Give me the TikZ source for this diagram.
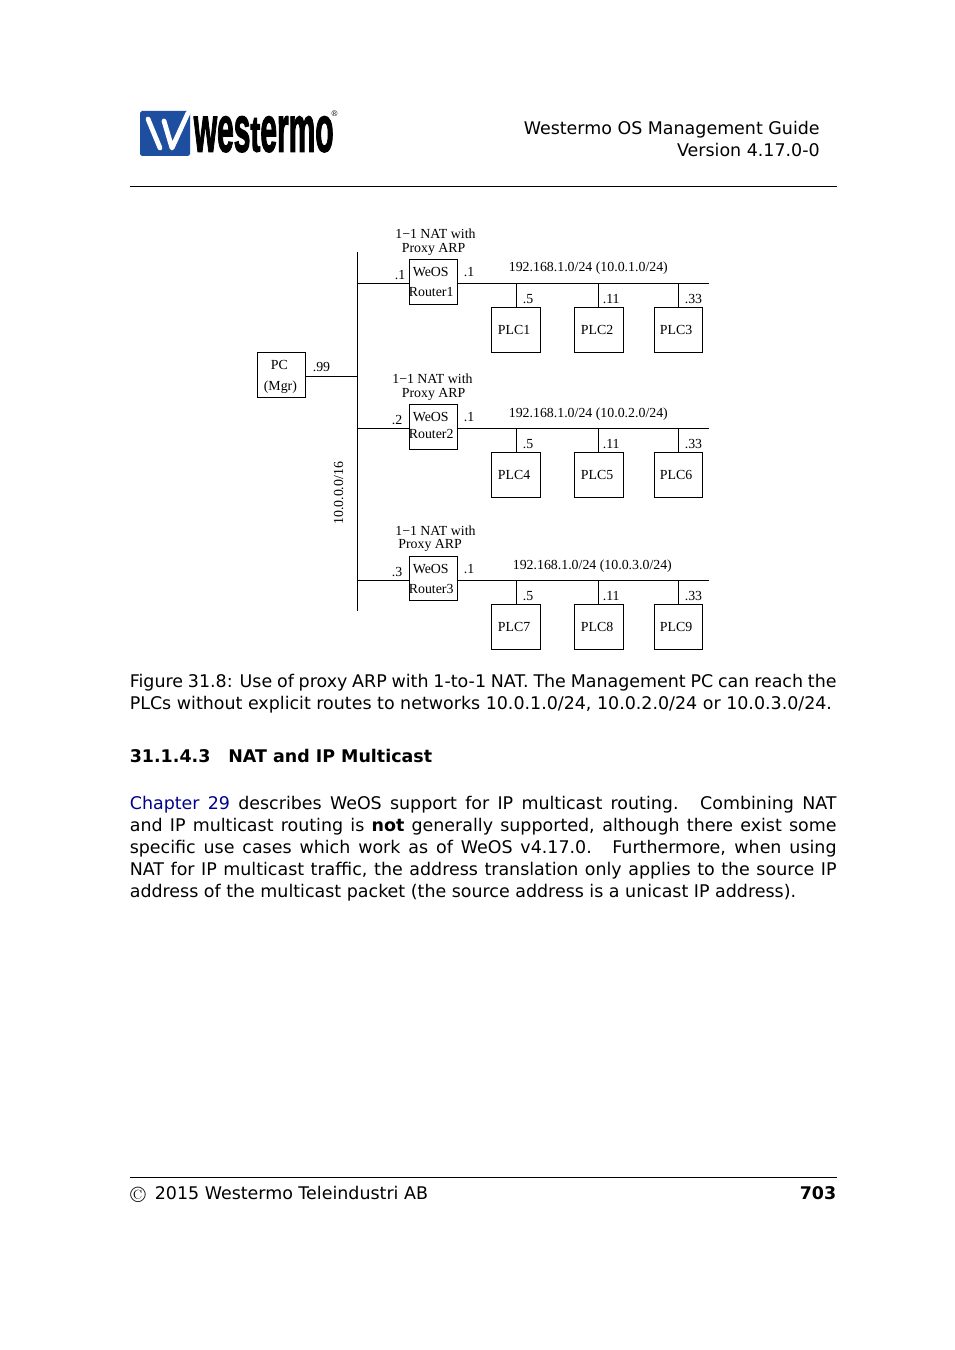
\documentclass[tikz,border=0pt]{standalone}
\usepackage{fontspec}
\setmainfont{DejaVu Sans}
\newfontfamily\timesf{Liberation Serif}
\newfontfamily\logof[FakeBold=2.5]{Liberation Sans Bold}
\newfontfamily\regf{Liberation Sans}
\usepackage{graphicx}
\definecolor{logoblue}{RGB}{30,78,160}
\definecolor{linkblue}{RGB}{0,0,140}
\tikzset{
  boxn/.style={draw=black,line width=0.65pt,inner sep=0pt,fill=white},
  routerbox/.style={boxn,minimum width=48pt*0.624,minimum height=44.5pt*0.624},
  plcbox/.style={boxn,minimum width=49pt*0.624,minimum height=45pt*0.624},
  wire/.style={line width=0.65pt,draw=black},
  lab/.style={anchor=base west,inner sep=0pt,font=\timesf\fontsize{8.65}{10}\selectfont},
  body/.style={anchor=base west,inner sep=0pt,font=\fontsize{10.89}{13.73}\selectfont},
  bodyb/.style={body,font=\bfseries\fontsize{10.89}{13.73}\selectfont},
  rule/.style={line width=0.5pt,draw=black},
}
\begin{document}
\begin{tikzpicture}[x=0.624pt,y=-0.624pt]
\useasboundingbox[fill=white] (0,0) rectangle (954,1350);
% logo
\fill[logoblue,rounded corners=1.2pt] (140,111) rectangle (190,156);
\draw[white,line width=3pt,line cap=round,line join=round] (148,119) -- (160,148);
\draw[white,line width=3pt,line cap=round,line join=round] (164,121) -- (172,148) -- (188,113);
\node[anchor=base west,inner sep=0pt] (logotext) at (193.5,151.5) {\logof\fontsize{18.5}{20}\selectfont\scalebox{1.01}[2.2]{wes}\scalebox{1.01}[1.72]{t}\scalebox{1.01}[2.2]{ermo}};
\node[anchor=center,inner sep=0pt,font=\regf\fontsize{5}{5}\selectfont] (logoreg) at (334.5,113.5) {®};
% header
\node[body,anchor=base east] (h1) at (820,135) {Westermo OS Management Guide};
\node[body,anchor=base east] (h2) at (820,157) {Version 4.17.0-0};
\coordinate (hl) at (130,186.5); \coordinate (hr) at (837,186.5);
\draw[rule] (hl) -- (hr);
% bus
\coordinate (busT) at (357.5,252);
\coordinate (busB) at (357.5,611);
\draw[wire] (busT) -- (busB);
% PC
\node[routerbox,minimum height=45pt*0.624] (pc) at (281.5,375) {};
\coordinate (jpc) at (357.5,376.5);
\draw[wire] (pc.east |- jpc) -- (jpc);
% branches
\foreach \i/\a/\b/\c/\yl/\yr/\yp in {1/1/2/3/283.5/282/330,2/4/5/6/428.5/427/475,3/7/8/9/580.5/578.5/627}{
  \coordinate (j\i) at (357.5,\yl);
  \coordinate (e\i) at (709,\yl);
  \node[routerbox] (r\i) at (433.5,\yr) {};
  \draw[wire] (j\i) -- (r\i.west |- j\i);
  \draw[wire] (r\i.east |- j\i) -- (e\i);
  \node[plcbox] (p\a) at (516,\yp) {};
  \node[plcbox] (p\b) at (599,\yp) {};
  \node[plcbox,minimum width=48pt*0.624] (p\c) at (678.5,\yp) {};
  \coordinate (sa\i) at (516.5,\yl);
  \coordinate (sb\i) at (598.5,\yl);
  \draw[wire] (sa\i) -- (sa\i |- p\a.north);
  \draw[wire] (sb\i) -- (sb\i |- p\b.north);
  \draw[wire] (p\c.north) -- (p\c.north |- j\i);
}
% PC labels
\node[lab] (tpc) at (270.5,369) {PC};
\node[lab] (tmgr) at (263.5,390) {(Mgr)};
\node[lab] (t99) at (312.5,371) {.99};
\node[lab,rotate=90] (tnet) at (343,525) {10.0.0.0/16};
% router 1
\node[lab] (n1a) at (395,239) {1−1 NAT with};
\node[lab] (n1b) at (401.5,253) {Proxy ARP};
\node[lab] (l1) at (394.5,279) {.1};
\node[lab] (w1) at (412.5,276) {WeOS};
\node[lab] (t1) at (408.5,296.5) {Router1};
\node[lab] (o1) at (463.5,276) {.1};
\node[lab] (s1) at (508.5,272) {192.168.1.0/24 (10.0.1.0/24)};
\node[lab] (a1) at (522.5,303) {.5};
\node[lab] (b1) at (602.5,303) {.11};
\node[lab] (c1) at (684.5,303) {.33};
\node[lab] (q1) at (497.5,334) {PLC1};
\node[lab] (q2) at (580.5,334) {PLC2};
\node[lab] (q3) at (659.5,334) {PLC3};
% router 2
\node[lab] (n2a) at (392,383) {1−1 NAT with};
\node[lab] (n2b) at (401.5,397) {Proxy ARP};
\node[lab] (l2) at (391.5,424) {.2};
\node[lab] (w2) at (412.5,421) {WeOS};
\node[lab] (t2) at (408.5,438) {Router2};
\node[lab] (o2) at (463.5,421) {.1};
\node[lab] (s2) at (508.5,417) {192.168.1.0/24 (10.0.2.0/24)};
\node[lab] (a2) at (522.5,448) {.5};
\node[lab] (b2) at (602.5,448) {.11};
\node[lab] (c2) at (684.5,448) {.33};
\node[lab] (q4) at (497.5,479) {PLC4};
\node[lab] (q5) at (580.5,479) {PLC5};
\node[lab] (q6) at (659.5,479) {PLC6};
% router 3
\node[lab] (n3a) at (395,535) {1−1 NAT with};
\node[lab] (n3b) at (398,548) {Proxy ARP};
\node[lab] (l3) at (391.5,576) {.3};
\node[lab] (w3) at (412.5,573) {WeOS};
\node[lab] (t3) at (408.5,593) {Router3};
\node[lab] (o3) at (463.5,573) {.1};
\node[lab] (s3) at (512.5,569) {192.168.1.0/24 (10.0.3.0/24)};
\node[lab] (a3) at (522.5,600) {.5};
\node[lab] (b3) at (602.5,600) {.11};
\node[lab] (c3) at (684.5,600) {.33};
\node[lab] (q7) at (497.5,631) {PLC7};
\node[lab] (q8) at (580.5,631) {PLC8};
\node[lab] (q9) at (659.5,631) {PLC9};
% caption
\node[body] (cap1) at (129.5,687) {\hbox to 441pt{\spaceskip=0.318em plus 1em minus 0.2em Figure 31.8: Use of proxy ARP with 1-to-1 NAT. The Management PC can reach the}};
\node[body] (cap2) at (129.5,709) {PLCs without explicit routes to networks 10.0.1.0/24, 10.0.2.0/24 or 10.0.3.0/24.};
% heading
\node[bodyb] (hd1) at (129.5,762) {31.1.4.3};
\node[bodyb] (hd2) at (228,762) {NAT and IP Multicast};
% paragraph
\foreach \n/\y/\t in {
  1/809/{\textcolor{linkblue}{Chapter 29} describes WeOS support for IP multicast routing.\hspace{0.35em} Combining NAT},
  2/831/{and IP multicast routing is \textbf{not} generally supported, although there exist some},
  3/853/{specific use cases which work as of WeOS v4.17.0.\hspace{0.35em} Furthermore, when using},
  4/875/{NAT for IP multicast traffic, the address translation only applies to the source IP}}{
  \node[body] (para\n) at (129.5,\y) {\hbox to 441pt{\spaceskip=0.318em plus 1em minus 0.2em\t}};
}
\node[body] (para5) at (129.5,897) {address of the multicast packet (the source address is a unicast IP address).};
% footer
\coordinate (fl) at (130,1177.5); \coordinate (fr) at (837,1177.5);
\draw[rule] (fl) -- (fr);
\node[body] (copy) at (130,1202) {{\fontspec{Latin Modern Roman}\fontsize{14}{14}\selectfont\textcopyright}};
\node[body] (foot) at (154.5,1199) {2015 Westermo Teleindustri AB};
\node[bodyb,anchor=base east] (pg) at (836.5,1199) {703};
\end{tikzpicture}
\end{document}
